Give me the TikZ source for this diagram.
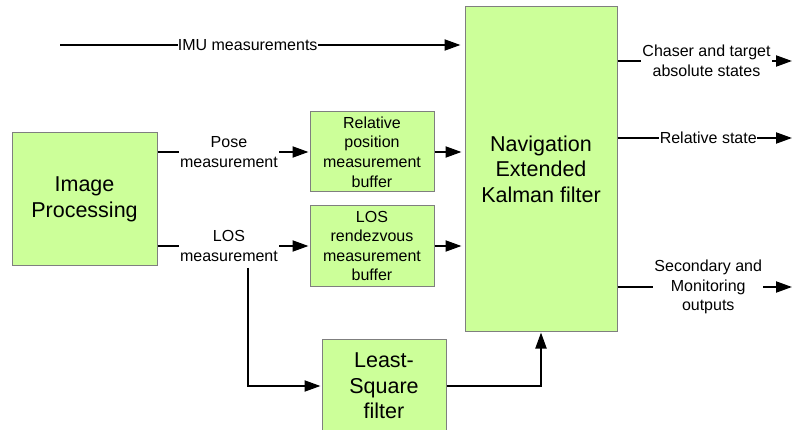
\documentclass[tikz,border=0pt]{standalone}
\usepackage{fontspec}
\setmainfont{Liberation Sans}
\usetikzlibrary{arrows.meta}
\definecolor{boxgreen}{HTML}{CCFF99}
\definecolor{boxedge}{HTML}{7F7F7F}
\begin{document}
\begin{tikzpicture}[x=1pt,y=-1pt,
  blk/.style={draw=boxedge, line width=1pt, fill=boxgreen, align=center, inner sep=0pt},
  small/.style={font=\fontsize{16}{19.6}\selectfont},
  big/.style={font=\fontsize{21.5}{25.5}\selectfont},
  conn/.style={line width=2pt, -{Triangle[length=16pt,width=11pt]}},
  lbl/.style={fill=white, inner sep=1.2pt, align=center, font=\fontsize{16}{19.6}\selectfont},
  tight/.style={inner sep=0.3pt}
]
\useasboundingbox (0,0) rectangle (792,430);
\clip (0,0) rectangle (792,430);

% blocks
\node[blk,big,minimum width=145pt,minimum height=133pt] (ip) at (84.5,199.5) {Image\\Processing};
\node[blk,small,minimum width=124pt,minimum height=80pt] (rpb) at (372,152) {Relative\\position\\measurement\\buffer};
\node[blk,small,minimum width=124pt,minimum height=81pt] (losb) at (372,246) {LOS\\rendezvous\\measurement\\buffer};
\node[blk,big,minimum width=124pt,minimum height=94pt] (ls) at (384,386) {Least-\\Square\\filter};
\node[blk,big,minimum width=152pt,minimum height=324pt] (ekf) at (541,169) {Navigation\\Extended\\Kalman filter};

% inputs
\coordinate (imuS) at (60,45);
\draw[conn, shorten >=4pt] (imuS) -- node[lbl, tight, pos=0.464] {IMU measurements} (imuS -| ekf.west);

\draw[conn, shorten >=1pt] (ip.east |- rpb.west) -- node[lbl, pos=0.47] {Pose\\measurement} (rpb.west);
\draw[conn, shorten >=1pt] (ip.east |- losb.west) -- node[lbl, pos=0.47] {LOS\\measurement} (losb.west);

\draw[conn, shorten >=3pt] (rpb.east) -- (rpb.east -| ekf.west);
\draw[conn, shorten >=3pt] (losb.east) -- (losb.east -| ekf.west);

\coordinate (losd) at (248,268);
\draw[conn, shorten >=1pt] (losd) |- (ls.west);
\draw[conn, shorten >=1pt] (ls.east) -| (ekf.south);

% outputs
\coordinate (o1) at (792,61);
\coordinate (o2) at (792,138);
\coordinate (o3) at (792,287);
\draw[conn] (ekf.east |- o1) -- node[lbl, pos=0.51] {Chaser and target\\absolute states} (o1);
\draw[conn] (ekf.east |- o2) -- node[lbl, tight, pos=0.52] {Relative state} (o2);
\draw[conn] (ekf.east |- o3) -- node[lbl, pos=0.52] {Secondary and\\Monitoring\\outputs} (o3);
\end{tikzpicture}
\end{document}
